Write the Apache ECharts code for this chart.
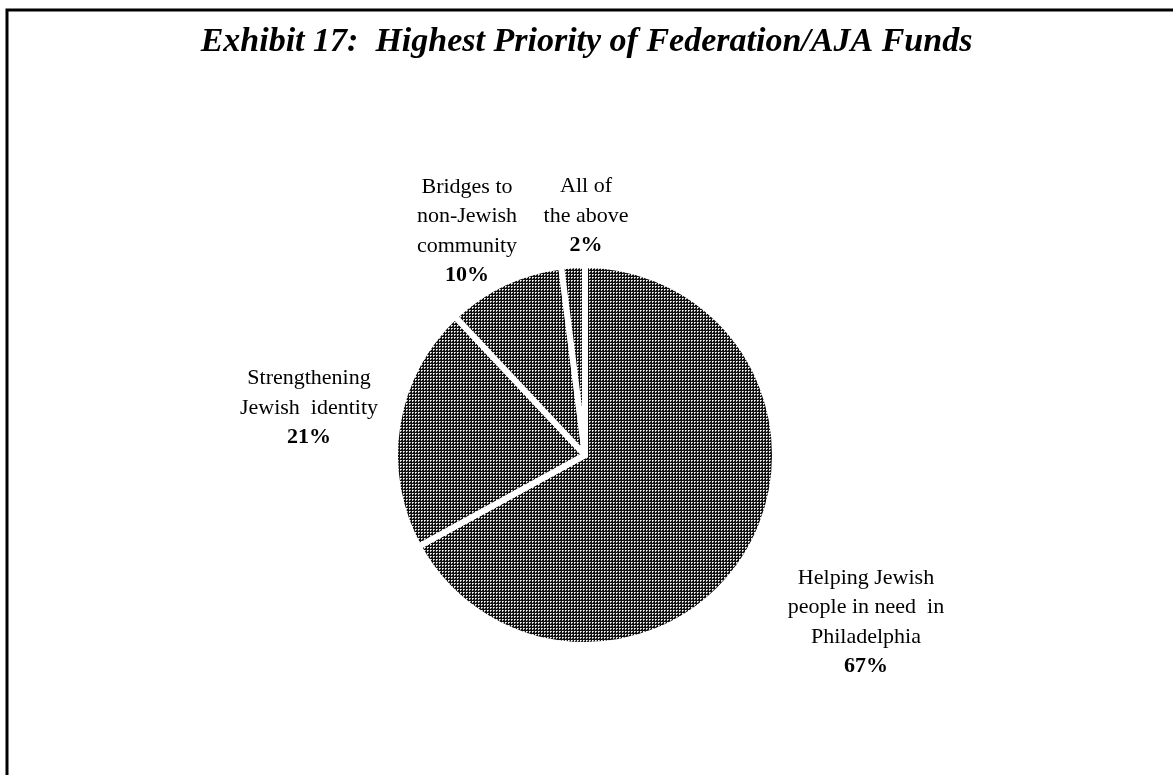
<!DOCTYPE html>
<html>
<head>
<meta charset="utf-8">
<title>Exhibit 17</title>
<script src="https://cdn.jsdelivr.net/npm/echarts@6/dist/echarts.min.js"></script>
<style>
  html, body { margin: 0; padding: 0; background: #fff; }
  #chart { width: 1173px; height: 775px; }
</style>
</head>
<body>
<div id="chart"></div>
<script>
// Survey answers: highest priority for Federation/AJA funds
const categories = [
  'Helping Jewish\npeople in need  in\nPhiladelphia',
  'Strengthening\nJewish  identity',
  'Bridges to\nnon-Jewish\ncommunity',
  'All of\nthe above'
];
const shares = [67, 21, 10, 2];

// Label anchor points (centre of each text block, in pixels)
const labelAnchors = [
  [866, 622],
  [309, 408],
  [467, 231],
  [586, 216]
];

// Halftone screen used to fill the slices
function halftone() {
  const c = document.createElement('canvas');
  c.width = 3; c.height = 3;
  const g = c.getContext('2d');
  g.fillStyle = '#111'; g.fillRect(0, 0, 3, 3);
  g.fillStyle = '#bbb'; g.fillRect(2, 1, 1, 1); g.fillRect(1, 2, 1, 1);
  g.fillStyle = '#fff'; g.fillRect(1, 1, 1, 1);
  return { image: c, repeat: 'repeat' };
}

const serif = '"Liberation Serif", "DejaVu Serif", serif';
const chart = echarts.init(document.getElementById('chart'));

chart.setOption({
  backgroundColor: '#fff',
  animation: false,
  title: {
    text: 'Exhibit 17:  Highest Priority of Federation/AJA Funds',
    left: 'center',
    top: 20,
    textStyle: {
      fontFamily: serif,
      fontStyle: 'italic',
      fontWeight: 'bold',
      fontSize: 34,
      color: '#000'
    }
  },
  graphic: [{
    type: 'rect',
    shape: { x: 7, y: 10, width: 1400, height: 1000 },
    style: { fill: 'none', stroke: '#000', lineWidth: 3 },
    silent: true
  }],
  series: [{
    type: 'pie',
    center: [585, 455],
    radius: 190,
    startAngle: 90,
    clockwise: true,
    silent: true,
    data: categories.map((name, i) => ({ name: name, value: shares[i] })),
    itemStyle: {
      color: halftone(),
      borderColor: '#fff',
      borderWidth: 6
    },
    labelLine: { show: false },
    label: {
      show: true,
      position: 'outside',
      align: 'center',
      formatter: p => p.name.split('\n').map(s => '{n|' + s + '}').join('\n') +
        '\n{p|' + p.value + '%}',
      rich: {
        n: { fontFamily: serif, fontSize: 22, lineHeight: 29.5, color: '#000', align: 'center' },
        p: { fontFamily: serif, fontSize: 22, fontWeight: 'bold', lineHeight: 29.5, color: '#000', align: 'center' }
      }
    },
    labelLayout: p => ({
      x: labelAnchors[p.dataIndex][0],
      y: labelAnchors[p.dataIndex][1],
      align: 'center',
      verticalAlign: 'middle'
    })
  }]
});
</script>
</body>
</html>
